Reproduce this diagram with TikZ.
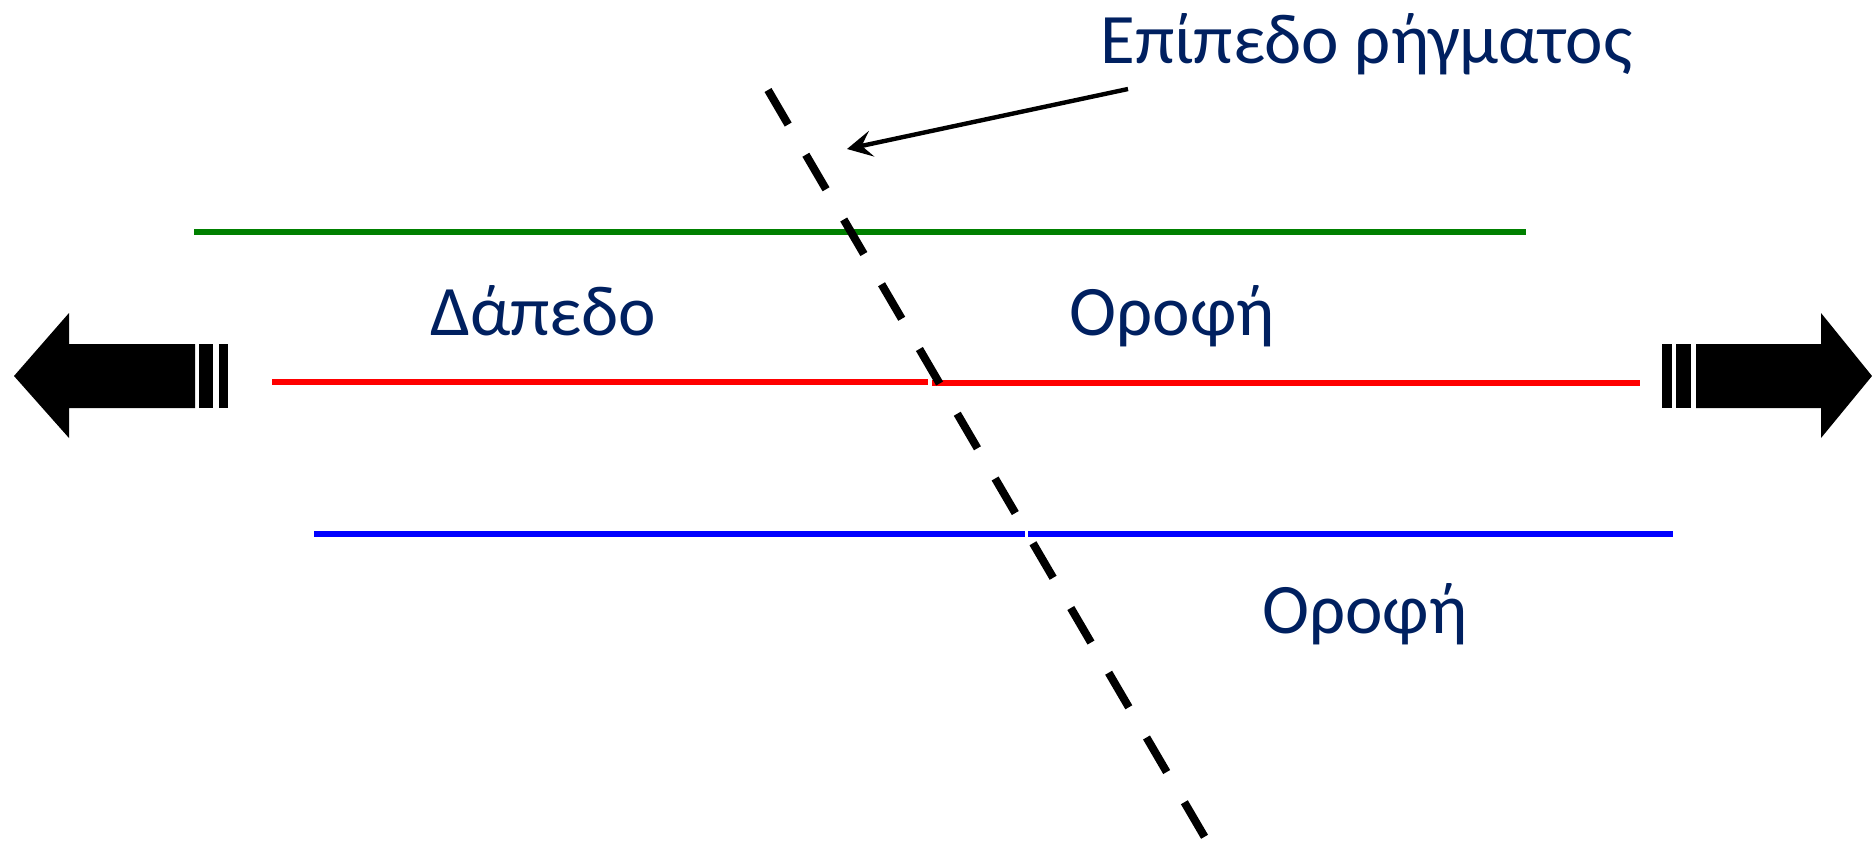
\documentclass[tikz,border=0pt]{standalone}
\usepackage{fontspec}
\setmainfont{Carlito}
\usetikzlibrary{arrows.meta}
\definecolor{labelnavy}{HTML}{002060}
\definecolor{layergreen}{HTML}{008000}
\definecolor{layerred}{HTML}{FF0000}
\definecolor{layerblue}{HTML}{0000FF}
\tikzset{
  label text/.style={text=labelnavy, inner sep=0pt, font=\fontsize{35.5}{40}\selectfont},
  layer/.style={line width=2.6pt},
  fault/.style={line width=4pt, dash pattern=on 20pt off 17.5pt},
  pointer/.style={line width=2.2pt, -{Stealth[length=12.5pt, width=13pt, inset=5pt]}},
  block/.style={fill=black, draw=none}
}
\begin{document}
\begin{tikzpicture}[x=0.5pt, y=-0.5pt]
\useasboundingbox (0,0) rectangle (1872,841);

% horizontal layers
\coordinate (gA) at (194,232);  \coordinate (gB) at (1526,232);
\coordinate (rA) at (272,382);  \coordinate (rB) at (928,382);
\coordinate (rC) at (932,383);  \coordinate (rD) at (1640,383);
\coordinate (bA) at (314,534);  \coordinate (bB) at (1025,534);
\coordinate (bC) at (1028,534); \coordinate (bD) at (1673,534);
\draw[layer, layergreen] (gA) -- (gB);
\draw[layer, layerred] (rA) -- (rB);
\draw[layer, layerred] (rC) -- (rD);
\draw[layer, layerblue] (bA) -- (bB);
\draw[layer, layerblue] (bC) -- (bD);

% fault plane trace
\coordinate (faultTop) at (768,90);
\coordinate (faultBottom) at (1207,841);
\draw[fault] (faultTop) -- (faultBottom);

% labels
\node[label text, anchor=base west] (title) at (1100,63) {Επίπεδο ρήγματος};
\node[label text, anchor=base west] (floor) at (430,335) {Δάπεδο};
\node[label text, anchor=base east] (roofUp) at (1275,335) {Οροφή};
\node[label text, anchor=base west] (roofDown) at (1262,633) {Οροφή};

% pointer to the fault plane
\coordinate (ptail) at (1128,89);
\coordinate (ptip) at (847,149);
\draw[pointer] (ptail) -- (ptip);

% left block arrow with tail bars
\fill[block] (14,376) -- (69,313) -- (69,344) -- (195,344) -- (195,408) -- (69,408) -- (69,438) -- cycle;
\fill[block] (199,344) rectangle (213,408);
\fill[block] (219,344) rectangle (228,408);

% right block arrow with tail bars
\fill[block] (1872,376) -- (1821,313) -- (1821,344) -- (1696,344) -- (1696,408) -- (1821,408) -- (1821,438) -- cycle;
\fill[block] (1676,344) rectangle (1691,408);
\fill[block] (1662,344) rectangle (1672,408);
\end{tikzpicture}
\end{document}
